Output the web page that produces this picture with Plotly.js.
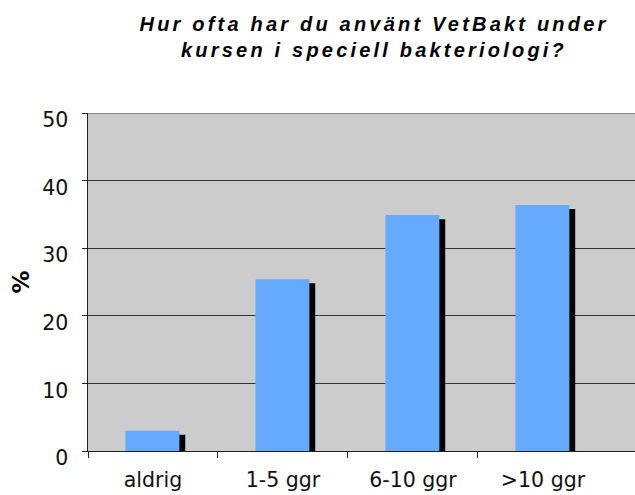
<!DOCTYPE html>
<html>
<head>
<meta charset="utf-8">
<script src="https://cdn.plot.ly/plotly-3.0.1.min.js"></script>
<style>
html, body { margin: 0; padding: 0; background: #fff; }
#chart { width: 635px; height: 495px; }
.gtitle { letter-spacing: 3.2px; }
</style>
</head>
<body>
<div id="chart"></div>
<script>
const categories = ["aldrig", "1-5 ggr", "6-10 ggr", ">10 ggr"];
const percentValues = [3.0, 25.4, 34.9, 36.4];
const yTickValues = [0, 10, 20, 30, 40, 50];
const categoryBoundaries = [-0.5, 0.5, 1.5, 2.5];
const titleText = "Hur ofta har du använt VetBakt under<br>kursen i speciell bakteriologi?";
const yTitleText = "%";

// style: drop-shadow drawn as a second bar shifted right and lowered a little
const shadowDrop = 0.6;
const shadowValues = percentValues.map(v => v - shadowDrop);
const categoryIndex = categories.map((c, i) => i);

const tickFont = { family: "DejaVu Sans, Verdana, sans-serif", size: 20.5, color: "#111" };
const xRange = [-0.5, 3.708];

const data = [
  {
    type: "bar", x: categories, y: shadowValues, xaxis: "x", yaxis: "y",
    marker: { color: "#000000", line: { width: 0 } },
    width: 0.415, offset: -0.167,
    hoverinfo: "skip", showlegend: false
  },
  {
    type: "bar", x: categoryIndex, y: percentValues, xaxis: "x2", yaxis: "y",
    marker: { color: "#66AAFF", line: { width: 0 } },
    width: 0.415, offset: -0.212,
    text: categories, hoverinfo: "text+y",
    textposition: "none",
    showlegend: false
  }
];

const layout = {
  width: 635, height: 495,
  margin: { l: 88, r: 0, t: 113, b: 44, pad: 0 },
  paper_bgcolor: "#ffffff",
  plot_bgcolor: "#CCCCCC",
  barmode: "overlay",
  title: {
    text: titleText,
    font: { family: "Liberation Sans, Arial, sans-serif", size: 20, weight: "bold", style: "italic", color: "#000" },
    x: 374 / 635, xanchor: "center", xref: "container",
    y: 1 - 31 / 495, yanchor: "middle", yref: "container"
  },
  xaxis: {
    type: "category",
    range: xRange,
    ticks: "outside", ticklen: 6, tickcolor: "rgba(0,0,0,0)",
    showgrid: false, zeroline: false,
    showline: true, linecolor: "#222", linewidth: 1,
    tickfont: tickFont,
    ticklabelstandoff: 4,
    fixedrange: true
  },
  xaxis2: {
    overlaying: "x",
    type: "linear",
    range: xRange,
    tickvals: categoryBoundaries,
    showticklabels: false,
    ticks: "outside", ticklen: 6, tickcolor: "#222", tickwidth: 1,
    showgrid: false, zeroline: false, showline: false,
    fixedrange: true
  },
  yaxis: {
    range: [0, 50],
    tickvals: yTickValues,
    ticktext: yTickValues.map(String),
    ticks: "outside", ticklen: 5, tickcolor: "#222", tickwidth: 1,
    showgrid: true, gridcolor: "#333333", gridwidth: 1,
    zeroline: false,
    showline: true, linecolor: "#222", linewidth: 1.5,
    tickfont: tickFont,
    ticklabelstandoff: 9,
    ticklabelshift: 7,
    title: {
      text: yTitleText,
      font: { family: "DejaVu Sans, Verdana, sans-serif", size: 23, weight: "bold", color: "#000" },
      standoff: 6
    },
    fixedrange: true
  },
  shapes: [
    { type: "line", xref: "paper", yref: "y", x0: 0, x1: 1, y0: 50, y1: 50,
      line: { color: "#888888", width: 2 } }
  ]
};

Plotly.newPlot("chart", data, layout, { displayModeBar: false, staticPlot: true });
</script>
</body>
</html>
